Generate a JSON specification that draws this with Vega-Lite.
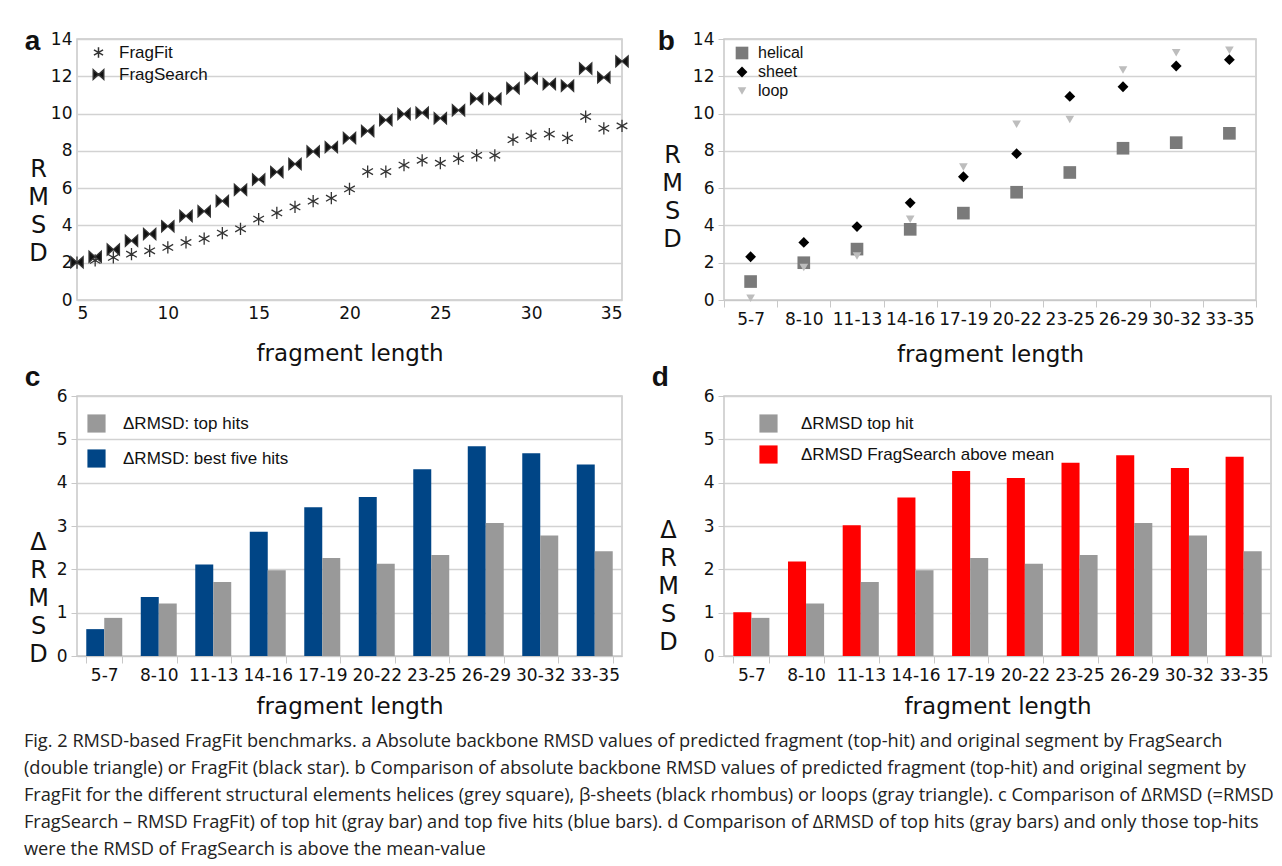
{
  "$schema": "https://vega.github.io/schema/vega-lite/v6.json",
  "background": "white",
  "padding": {"left": 23, "top": 27, "right": 4, "bottom": 4},
  "config": {
    "font": "DejaVu Sans",
    "view": {"stroke": "#c8c8c8", "strokeWidth": 1.5},
    "axis": {
      "labelFontSize": 17, "labelColor": "#111", "labelFont": "DejaVu Sans",
      "titleFontSize": 23, "titleFontWeight": "normal", "titleColor": "#111", "titleFont": "DejaVu Sans",
      "gridColor": "#d2d2d2", "gridWidth": 1.5, "domainColor": "#c8c8c8", "tickColor": "#c8c8c8", "domain": false
    },
    "legend": {"labelFont": "Liberation Sans", "labelColor": "#111", "titleFont": "Liberation Sans", "labelLimit": 500},
    "title": {"font": "Liberation Sans", "fontSize": 28, "fontWeight": "bold", "color": "#111", "anchor": "start", "frame": "bounds"}
  },
  "title": {
    "text": [
      "Fig. 2 RMSD-based FragFit benchmarks. a Absolute backbone RMSD values of predicted fragment (top-hit) and original segment by FragSearch",
      "(double triangle) or FragFit (black star). b Comparison of absolute backbone RMSD values of predicted fragment (top-hit) and original segment by",
      "FragFit for the different structural elements helices (grey square), β-sheets (black rhombus) or loops (gray triangle). c Comparison of ΔRMSD (=RMSD",
      "FragSearch – RMSD FragFit) of top hit (gray bar) and top five hits (blue bars). d Comparison of ΔRMSD of top hits (gray bars) and only those top-hits",
      "were the RMSD of FragSearch is above the mean-value"
    ],
    "orient": "bottom", "anchor": "start", "frame": "bounds",
    "font": "Open Sans", "fontSize": 18.2, "fontWeight": "normal", "color": "#222",
    "lineHeight": 27, "offset": 14, "dx": 0
  },
  "resolve": {"scale": {"color": "independent", "shape": "independent", "size": "independent", "xOffset": "independent"}, "legend": {"color": "independent", "shape": "independent", "size": "independent"}},
  "datasets": {
    "a": [
      {"length": 5, "method": "FragFit", "rmsd": 2.0},
      {"length": 6, "method": "FragFit", "rmsd": 2.12},
      {"length": 7, "method": "FragFit", "rmsd": 2.28},
      {"length": 8, "method": "FragFit", "rmsd": 2.46},
      {"length": 9, "method": "FragFit", "rmsd": 2.64},
      {"length": 10, "method": "FragFit", "rmsd": 2.82},
      {"length": 11, "method": "FragFit", "rmsd": 3.09},
      {"length": 12, "method": "FragFit", "rmsd": 3.29},
      {"length": 13, "method": "FragFit", "rmsd": 3.59},
      {"length": 14, "method": "FragFit", "rmsd": 3.82},
      {"length": 15, "method": "FragFit", "rmsd": 4.34},
      {"length": 16, "method": "FragFit", "rmsd": 4.67},
      {"length": 17, "method": "FragFit", "rmsd": 4.99},
      {"length": 18, "method": "FragFit", "rmsd": 5.3},
      {"length": 19, "method": "FragFit", "rmsd": 5.46},
      {"length": 20, "method": "FragFit", "rmsd": 5.96},
      {"length": 21, "method": "FragFit", "rmsd": 6.89},
      {"length": 22, "method": "FragFit", "rmsd": 6.89},
      {"length": 23, "method": "FragFit", "rmsd": 7.24},
      {"length": 24, "method": "FragFit", "rmsd": 7.49},
      {"length": 25, "method": "FragFit", "rmsd": 7.34},
      {"length": 26, "method": "FragFit", "rmsd": 7.58},
      {"length": 27, "method": "FragFit", "rmsd": 7.76},
      {"length": 28, "method": "FragFit", "rmsd": 7.76},
      {"length": 29, "method": "FragFit", "rmsd": 8.6},
      {"length": 30, "method": "FragFit", "rmsd": 8.8},
      {"length": 31, "method": "FragFit", "rmsd": 8.9},
      {"length": 32, "method": "FragFit", "rmsd": 8.69},
      {"length": 33, "method": "FragFit", "rmsd": 9.84},
      {"length": 34, "method": "FragFit", "rmsd": 9.21},
      {"length": 35, "method": "FragFit", "rmsd": 9.34},
      {"length": 5, "method": "FragSearch", "rmsd": 2.03},
      {"length": 6, "method": "FragSearch", "rmsd": 2.32},
      {"length": 7, "method": "FragSearch", "rmsd": 2.71},
      {"length": 8, "method": "FragSearch", "rmsd": 3.18},
      {"length": 9, "method": "FragSearch", "rmsd": 3.54},
      {"length": 10, "method": "FragSearch", "rmsd": 3.95},
      {"length": 11, "method": "FragSearch", "rmsd": 4.51},
      {"length": 12, "method": "FragSearch", "rmsd": 4.76},
      {"length": 13, "method": "FragSearch", "rmsd": 5.31},
      {"length": 14, "method": "FragSearch", "rmsd": 5.91},
      {"length": 15, "method": "FragSearch", "rmsd": 6.46},
      {"length": 16, "method": "FragSearch", "rmsd": 6.86},
      {"length": 17, "method": "FragSearch", "rmsd": 7.29},
      {"length": 18, "method": "FragSearch", "rmsd": 7.97},
      {"length": 19, "method": "FragSearch", "rmsd": 8.2},
      {"length": 20, "method": "FragSearch", "rmsd": 8.69},
      {"length": 21, "method": "FragSearch", "rmsd": 9.07},
      {"length": 22, "method": "FragSearch", "rmsd": 9.66},
      {"length": 23, "method": "FragSearch", "rmsd": 9.98},
      {"length": 24, "method": "FragSearch", "rmsd": 10.04},
      {"length": 25, "method": "FragSearch", "rmsd": 9.75},
      {"length": 26, "method": "FragSearch", "rmsd": 10.18},
      {"length": 27, "method": "FragSearch", "rmsd": 10.79},
      {"length": 28, "method": "FragSearch", "rmsd": 10.79},
      {"length": 29, "method": "FragSearch", "rmsd": 11.36},
      {"length": 30, "method": "FragSearch", "rmsd": 11.89},
      {"length": 31, "method": "FragSearch", "rmsd": 11.58},
      {"length": 32, "method": "FragSearch", "rmsd": 11.49},
      {"length": 33, "method": "FragSearch", "rmsd": 12.42},
      {"length": 34, "method": "FragSearch", "rmsd": 11.94},
      {"length": 35, "method": "FragSearch", "rmsd": 12.8}
    ],
    "b": [
      {"range": "5-7", "element": "helical", "rmsd": 0.99},
      {"range": "8-10", "element": "helical", "rmsd": 2.0},
      {"range": "11-13", "element": "helical", "rmsd": 2.73},
      {"range": "14-16", "element": "helical", "rmsd": 3.79},
      {"range": "17-19", "element": "helical", "rmsd": 4.66},
      {"range": "20-22", "element": "helical", "rmsd": 5.78},
      {"range": "23-25", "element": "helical", "rmsd": 6.84},
      {"range": "26-29", "element": "helical", "rmsd": 8.14},
      {"range": "30-32", "element": "helical", "rmsd": 8.44},
      {"range": "33-35", "element": "helical", "rmsd": 8.94},
      {"range": "5-7", "element": "sheet", "rmsd": 2.32},
      {"range": "8-10", "element": "sheet", "rmsd": 3.09},
      {"range": "11-13", "element": "sheet", "rmsd": 3.94},
      {"range": "14-16", "element": "sheet", "rmsd": 5.21},
      {"range": "17-19", "element": "sheet", "rmsd": 6.61},
      {"range": "20-22", "element": "sheet", "rmsd": 7.85},
      {"range": "23-25", "element": "sheet", "rmsd": 10.92},
      {"range": "26-29", "element": "sheet", "rmsd": 11.44},
      {"range": "30-32", "element": "sheet", "rmsd": 12.55},
      {"range": "33-35", "element": "sheet", "rmsd": 12.89},
      {"range": "5-7", "element": "loop", "rmsd": 0.1},
      {"range": "8-10", "element": "loop", "rmsd": 1.74},
      {"range": "11-13", "element": "loop", "rmsd": 2.36},
      {"range": "14-16", "element": "loop", "rmsd": 4.33},
      {"range": "17-19", "element": "loop", "rmsd": 7.13},
      {"range": "20-22", "element": "loop", "rmsd": 9.43},
      {"range": "23-25", "element": "loop", "rmsd": 9.68},
      {"range": "26-29", "element": "loop", "rmsd": 12.34},
      {"range": "30-32", "element": "loop", "rmsd": 13.26},
      {"range": "33-35", "element": "loop", "rmsd": 13.39}
    ],
    "c": [
      {"range": "5-7", "series": "ΔRMSD: best five hits", "delta": 0.62},
      {"range": "8-10", "series": "ΔRMSD: best five hits", "delta": 1.36},
      {"range": "11-13", "series": "ΔRMSD: best five hits", "delta": 2.11},
      {"range": "14-16", "series": "ΔRMSD: best five hits", "delta": 2.87},
      {"range": "17-19", "series": "ΔRMSD: best five hits", "delta": 3.43},
      {"range": "20-22", "series": "ΔRMSD: best five hits", "delta": 3.67},
      {"range": "23-25", "series": "ΔRMSD: best five hits", "delta": 4.31},
      {"range": "26-29", "series": "ΔRMSD: best five hits", "delta": 4.84},
      {"range": "30-32", "series": "ΔRMSD: best five hits", "delta": 4.68},
      {"range": "33-35", "series": "ΔRMSD: best five hits", "delta": 4.42},
      {"range": "5-7", "series": "ΔRMSD: top hits", "delta": 0.88},
      {"range": "8-10", "series": "ΔRMSD: top hits", "delta": 1.21},
      {"range": "11-13", "series": "ΔRMSD: top hits", "delta": 1.71},
      {"range": "14-16", "series": "ΔRMSD: top hits", "delta": 1.98},
      {"range": "17-19", "series": "ΔRMSD: top hits", "delta": 2.26},
      {"range": "20-22", "series": "ΔRMSD: top hits", "delta": 2.13},
      {"range": "23-25", "series": "ΔRMSD: top hits", "delta": 2.33},
      {"range": "26-29", "series": "ΔRMSD: top hits", "delta": 3.07},
      {"range": "30-32", "series": "ΔRMSD: top hits", "delta": 2.78},
      {"range": "33-35", "series": "ΔRMSD: top hits", "delta": 2.42}
    ],
    "d": [
      {"range": "5-7", "series": "ΔRMSD FragSearch above mean", "delta": 1.01},
      {"range": "8-10", "series": "ΔRMSD FragSearch above mean", "delta": 2.18},
      {"range": "11-13", "series": "ΔRMSD FragSearch above mean", "delta": 3.02},
      {"range": "14-16", "series": "ΔRMSD FragSearch above mean", "delta": 3.66},
      {"range": "17-19", "series": "ΔRMSD FragSearch above mean", "delta": 4.27},
      {"range": "20-22", "series": "ΔRMSD FragSearch above mean", "delta": 4.11},
      {"range": "23-25", "series": "ΔRMSD FragSearch above mean", "delta": 4.46},
      {"range": "26-29", "series": "ΔRMSD FragSearch above mean", "delta": 4.63},
      {"range": "30-32", "series": "ΔRMSD FragSearch above mean", "delta": 4.34},
      {"range": "33-35", "series": "ΔRMSD FragSearch above mean", "delta": 4.6},
      {"range": "5-7", "series": "ΔRMSD top hit", "delta": 0.88},
      {"range": "8-10", "series": "ΔRMSD top hit", "delta": 1.21},
      {"range": "11-13", "series": "ΔRMSD top hit", "delta": 1.71},
      {"range": "14-16", "series": "ΔRMSD top hit", "delta": 1.98},
      {"range": "17-19", "series": "ΔRMSD top hit", "delta": 2.26},
      {"range": "20-22", "series": "ΔRMSD top hit", "delta": 2.13},
      {"range": "23-25", "series": "ΔRMSD top hit", "delta": 2.33},
      {"range": "26-29", "series": "ΔRMSD top hit", "delta": 3.07},
      {"range": "30-32", "series": "ΔRMSD top hit", "delta": 2.78},
      {"range": "33-35", "series": "ΔRMSD top hit", "delta": 2.42}
    ]
  },
  "spacing": -4,
  "vconcat": [
    {
      "bounds": "flush",
      "spacing": 102,
      "resolve": {"scale": {"color": "independent", "shape": "independent", "size": "independent"}, "legend": {"color": "independent", "shape": "independent", "size": "independent"}},
      "hconcat": [
        {
          "width": 545, "height": 261,
          "title": {"text": "a", "dy": 30, "dx": -3},
          "data": {"name": "a"},
          "mark": {"type": "point", "filled": true, "fill": "#111", "stroke": "#333", "strokeWidth": 1.3, "opacity": 1},
          "encoding": {
            "x": {"field": "length", "type": "quantitative", "scale": {"domain": [5, 35], "nice": false, "zero": false},
                  "axis": {"values": [5, 10, 15, 20, 25, 30, 35], "grid": false, "ticks": false, "labelPadding": 5, "title": "fragment length", "titlePadding": 21}},
            "y": {"field": "rmsd", "type": "quantitative", "scale": {"domain": [0, 14], "nice": false},
                  "axis": {"values": [0, 2, 4, 6, 8, 10, 12, 14], "ticks": false, "labelPadding": 5, "title": ["R", "M", "S", "D"], "titleAngle": 0, "titleBaseline": "middle", "titleAlign": "center", "titleLineHeight": 28, "titleFontSize": 24, "titleX": -39, "titleY": 130}},
            "shape": {"field": "method", "type": "nominal",
                      "scale": {"domain": ["FragFit", "FragSearch"], "range": ["M0,-1L0,1M-0.87,-0.5L0.87,0.5M-0.87,0.5L0.87,-0.5", "M-1,-0.9L0,0L-1,0.9ZM1,-0.9L0,0L1,0.9Z"]},
                      "legend": {"orient": "top-left", "title": null, "labelFontSize": 17, "symbolSize": 110, "rowPadding": 4, "offset": 4, "padding": 1, "labelOffset": 12, "symbolOffset": 8,
                                 "encode": {"symbols": {"update": {"stroke": {"value": "#333"}, "strokeWidth": {"value": 1.3}, "fill": {"value": "#111"}}}}}},
            "size": {"value": 150}
          }
        },
        {
          "width": 532, "height": 261,
          "title": {"text": "b", "dy": 30, "dx": -4},
          "data": {"name": "b"},
          "mark": {"type": "point", "filled": true, "opacity": 1},
          "encoding": {
            "x": {"field": "range", "type": "nominal", "sort": ["5-7", "8-10", "11-13", "14-16", "17-19", "20-22", "23-25", "26-29", "30-32", "33-35"],
                  "scale": {"paddingInner": 0, "paddingOuter": 0},
                  "axis": {"labelAngle": 0, "labelOverlap": false, "labelBound": false, "labelPadding": 4, "tickBand": "extent", "tickSize": 7, "ticks": true, "domain": true, "title": "fragment length", "titlePadding": 16}},
            "y": {"field": "rmsd", "type": "quantitative", "scale": {"domain": [0, 14], "nice": false},
                  "axis": {"values": [0, 2, 4, 6, 8, 10, 12, 14], "tickSize": 6, "labelPadding": 4, "title": ["R", "M", "S", "D"], "titleAngle": 0, "titleBaseline": "middle", "titleAlign": "center", "titleLineHeight": 28, "titleFontSize": 24, "titleX": -52, "titleY": 116}},
            "shape": {"field": "element", "type": "nominal", "scale": {"domain": ["helical", "sheet", "loop"], "range": ["square", "diamond", "triangle-down"]},
                      "legend": {"orient": "top-left", "title": null, "labelFontSize": 16, "rowPadding": 3, "offset": 4, "padding": 2, "labelOffset": 8, "symbolOffset": 4}},
            "color": {"field": "element", "type": "nominal", "scale": {"domain": ["helical", "sheet", "loop"], "range": ["#7a7a7a", "#000000", "#bdbdbd"]},
                      "legend": {"orient": "top-left", "title": null, "labelFontSize": 16, "rowPadding": 3, "offset": 4, "padding": 2, "labelOffset": 8, "symbolOffset": 4}},
            "size": {"field": "element", "type": "nominal", "scale": {"domain": ["helical", "sheet", "loop"], "range": [160, 75, 110]},
                      "legend": {"orient": "top-left", "title": null, "labelFontSize": 16, "rowPadding": 3, "offset": 4, "padding": 2, "labelOffset": 8, "symbolOffset": 4}}
          }
        }
      ]
    },
    {
      "bounds": "flush",
      "spacing": 102,
      "resolve": {"scale": {"color": "independent", "shape": "independent", "size": "independent", "xOffset": "independent"}, "legend": {"color": "independent", "shape": "independent", "size": "independent"}},
      "hconcat": [
        {
          "width": 545, "height": 260,
          "title": {"text": "c", "dy": 5, "dx": -3, "offset": 0},
          "data": {"name": "c"},
          "mark": {"type": "bar"},
          "encoding": {
            "x": {"field": "range", "type": "nominal", "sort": ["5-7", "8-10", "11-13", "14-16", "17-19", "20-22", "23-25", "26-29", "30-32", "33-35"],
                  "scale": {"paddingInner": 0.34, "paddingOuter": 0.17},
                  "axis": {"labelAngle": 0, "labelOverlap": false, "labelBound": false, "labelPadding": 4, "tickBand": "extent", "tickSize": 7, "ticks": true, "domain": true, "title": "fragment length", "titlePadding": 12}},
            "xOffset": {"field": "series", "type": "nominal", "sort": ["ΔRMSD: best five hits", "ΔRMSD: top hits"], "scale": {"paddingInner": 0, "paddingOuter": 0}},
            "y": {"field": "delta", "type": "quantitative", "scale": {"domain": [0, 6], "nice": false},
                  "axis": {"values": [0, 1, 2, 3, 4, 5, 6], "tickSize": 6, "labelPadding": 4, "title": ["Δ", "R", "M", "S", "D"], "titleAngle": 0, "titleBaseline": "middle", "titleAlign": "center", "titleLineHeight": 28, "titleFontSize": 24, "titleX": -39, "titleY": 146}},
            "color": {"field": "series", "type": "nominal", "scale": {"domain": ["ΔRMSD: top hits", "ΔRMSD: best five hits"], "range": ["#999999", "#004586"]},
                      "legend": {"orient": "top-left", "title": null, "labelFontSize": 17, "symbolType": "square", "symbolSize": 330, "rowPadding": 16, "offset": 4, "padding": 14, "labelOffset": 17, "symbolStrokeWidth": 0, "symbolOffset": -8}}
          }
        },
        {
          "width": 547, "height": 260,
          "title": {"text": "d", "dy": 5, "dx": -6, "offset": 0},
          "data": {"name": "d"},
          "mark": {"type": "bar"},
          "encoding": {
            "x": {"field": "range", "type": "nominal", "sort": ["5-7", "8-10", "11-13", "14-16", "17-19", "20-22", "23-25", "26-29", "30-32", "33-35"],
                  "scale": {"paddingInner": 0.34, "paddingOuter": 0.17},
                  "axis": {"labelAngle": 0, "labelOverlap": false, "labelBound": false, "labelPadding": 4, "tickBand": "extent", "tickSize": 7, "ticks": true, "domain": true, "title": "fragment length", "titlePadding": 12}},
            "xOffset": {"field": "series", "type": "nominal", "sort": ["ΔRMSD FragSearch above mean", "ΔRMSD top hit"], "scale": {"paddingInner": 0, "paddingOuter": 0}},
            "y": {"field": "delta", "type": "quantitative", "scale": {"domain": [0, 6], "nice": false},
                  "axis": {"values": [0, 1, 2, 3, 4, 5, 6], "tickSize": 6, "labelPadding": 4, "title": ["Δ", "R", "M", "S", "D"], "titleAngle": 0, "titleBaseline": "middle", "titleAlign": "center", "titleLineHeight": 28, "titleFontSize": 24, "titleX": -56, "titleY": 134}},
            "color": {"field": "series", "type": "nominal", "scale": {"domain": ["ΔRMSD top hit", "ΔRMSD FragSearch above mean"], "range": ["#999999", "#ff0000"]},
                      "legend": {"orient": "top-left", "title": null, "labelFontSize": 17, "symbolType": "square", "symbolSize": 330, "rowPadding": 12, "offset": 4, "padding": 14, "labelOffset": 23, "symbolStrokeWidth": 0, "symbolOffset": 17}}
          }
        }
      ]
    }
  ]
}
